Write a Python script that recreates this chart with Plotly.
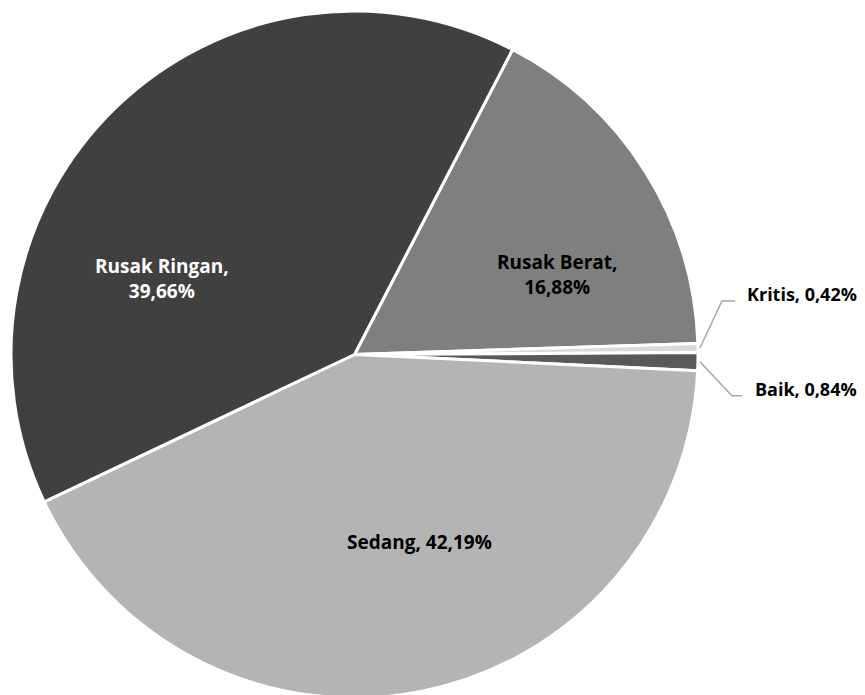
import math
import plotly.graph_objects as go

labels = ["Rusak Berat", "Kritis", "Baik", "Sedang", "Rusak Ringan"]
values = [16.88, 0.42, 0.84, 42.19, 39.66]
value_text = ["16,88%", "0,42%", "0,84%", "42,19%", "39,66%"]
colors = ["#7f7f7f", "#d9d9d9", "#595959", "#b4b4b4", "#404040"]
text_colors = ["#000000", "#000000", "#000000", "#000000", "#ffffff"]

W, H = 865, 695
OFF = 8  # page body margin of the html output
ROT = 27.4
FONT = "Open Sans"
FS = 19
FS_SMALL = 18

# pie placement (page pixels)
PIE_L, PIE_R, PIE_T = 11, 698, 11
cx_p = (PIE_L + PIE_R) / 2
r = (PIE_R - PIE_L) / 2
cy_p = PIE_T + r
dom_x = [(PIE_L - OFF) / W, (PIE_R - OFF) / W]
dom_y = [1 - (PIE_T + 2 * r - OFF) / H, 1 - (PIE_T - OFF) / H]


def px2paper(x, y):
    return (x - OFF) / W, 1 - (y - OFF) / H


fig = go.Figure(go.Pie(
    labels=labels,
    values=values,
    textinfo="none",
    sort=False,
    direction="clockwise",
    rotation=ROT,
    marker=dict(colors=colors, line=dict(color="#ffffff", width=3)),
    domain=dict(x=dom_x, y=dom_y),
    showlegend=False,
    hoverinfo="label+percent",
))

# label placement for the big slices (page pixels, label centre)
inside_pos = {"Rusak Berat": (557, 274), "Sedang": (419, 542), "Rusak Ringan": (162, 278)}
# leader line geometry for small slices: elbow dx, dy, horizontal length
elbow = {"Kritis": (22, -47, 13), "Baik": (32, 34, 10)}
LABEL_RIGHT = 859

shapes = []
annotations = []
total = sum(values)
cum = 0
for l, v, t, tc in zip(labels, values, value_text, text_colors):
    mid = ROT + (cum + v / 2) / total * 360
    cum += v
    if l in inside_pos:
        txt = f"{l}, {t}" if l == "Sedang" else f"{l},<br>{t}"
        x, y = px2paper(*inside_pos[l])
        annotations.append(dict(x=x, y=y, xref="paper", yref="paper",
                                text=f"<b>{txt}</b>", showarrow=False,
                                xanchor="center", yanchor="middle",
                                font=dict(family=FONT, size=FS, color=tc)))
        continue
    a = math.radians(mid)
    sx = cx_p + (r + 2) * math.sin(a)
    sy = cy_p - (r + 2) * math.cos(a)
    dx, dy, hl = elbow[l]
    ex, ey = sx + dx, sy + dy
    hx = ex + hl
    p0, p1, p2 = px2paper(sx, sy), px2paper(ex, ey), px2paper(hx, ey)
    path = f"M {p0[0]} {p0[1]} L {p1[0]} {p1[1]} L {p2[0]} {p2[1]}"
    shapes.append(dict(type="path", xref="paper", yref="paper", path=path,
                       line=dict(color="#a6a6a6", width=1.5)))
    tx, ty = px2paper(LABEL_RIGHT, ey - 7)
    annotations.append(dict(x=tx, y=ty, xref="paper", yref="paper",
                            text=f"<b>{l}, {t}</b>", showarrow=False,
                            xanchor="right", yanchor="middle",
                            font=dict(family=FONT, size=FS_SMALL, color="#000000")))

fig.update_layout(
    width=W, height=H,
    margin=dict(l=0, r=0, t=0, b=0),
    paper_bgcolor="#ffffff",
    plot_bgcolor="#ffffff",
    shapes=shapes,
    annotations=annotations,
)
fig.write_html("out.html")
